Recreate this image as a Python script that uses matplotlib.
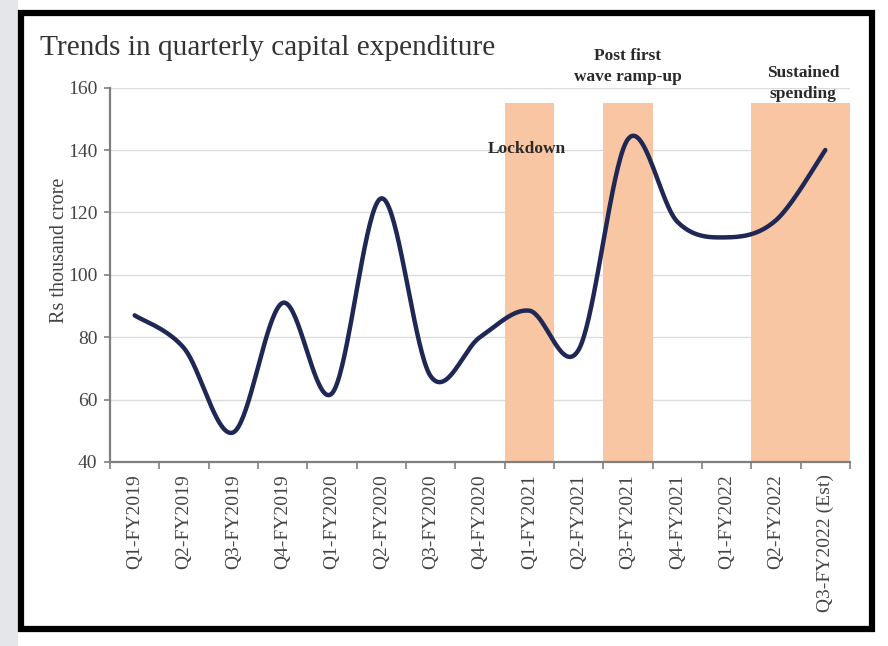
import numpy as np
import matplotlib
matplotlib.use("Agg")
import matplotlib.pyplot as plt
from matplotlib.patches import Rectangle

# Quarterly capital expenditure, Rs thousand crore
quarters = ["Q1-FY2019", "Q2-FY2019", "Q3-FY2019", "Q4-FY2019",
            "Q1-FY2020", "Q2-FY2020", "Q3-FY2020", "Q4-FY2020",
            "Q1-FY2021", "Q2-FY2021", "Q3-FY2021", "Q4-FY2021",
            "Q1-FY2022", "Q2-FY2022", "Q3-FY2022 (Est)"]
capex = [87, 76.5, 49.5, 91, 62, 124.5, 67.5, 80, 88.5, 76, 143.5, 117, 112, 117.5, 140]

# Highlighted phases (bar height marks the band top)
band_quarters = ["Q1-FY2021", "Q3-FY2021", "Q2-FY2022", "Q3-FY2022 (Est)"]
band_top = 155
phase_labels = ["Lockdown", "Post first\nwave ramp-up", "Sustained\nspending"]
phase_anchor = ["Q1-FY2021", "Q3-FY2021", "Q2-FY2022"]

yticks = [40, 60, 80, 100, 120, 140, 160]

SERIF = ["Liberation Serif", "DejaVu Serif"]
LINE = "#1f2755"
BAND = "#f8c6a2"


def smooth(xs, ys, n=40):
    """Catmull-Rom style smoothing through every point (cubic Bezier segments)."""
    p = np.column_stack([xs, ys]).astype(float)
    ext = np.vstack([p[0], p, p[-1]])
    out = []
    t = np.linspace(0, 1, n)[:, None]
    for i in range(len(p) - 1):
        p0, p1, p2, p3 = ext[i], ext[i + 1], ext[i + 2], ext[i + 3]
        c1 = p1 + (p2 - p0) / 6.0
        c2 = p2 - (p3 - p1) / 6.0
        seg = ((1 - t) ** 3) * p1 + 3 * ((1 - t) ** 2) * t * c1 \
            + 3 * (1 - t) * t ** 2 * c2 + t ** 3 * p2
        out.append(seg if i == 0 else seg[1:])
    s = np.vstack(out)
    return s[:, 0], s[:, 1]


fig = plt.figure(figsize=(8.88, 6.46), dpi=100)
fig.patch.set_facecolor("white")

# grey strip on the left edge and the black frame
fig.add_artist(Rectangle((0, 0), 18 / 888, 1, transform=fig.transFigure,
                         facecolor="#e4e6e9", edgecolor="none", zorder=0))
fig.add_artist(Rectangle((21 / 888, 1 - 629 / 646), 851 / 888, 616 / 646,
                         transform=fig.transFigure, facecolor="white",
                         edgecolor="black", linewidth=4.5, zorder=1))

ax = fig.add_axes([110 / 888, 1 - 462 / 646, 740 / 888, (462 - 87.6) / 646])
ax.set_zorder(2)
ax.patch.set_alpha(0)

idx = np.arange(len(quarters))
ax.set_xlim(-0.5, len(quarters) - 0.5)
ax.set_ylim(40, 160)

for y in yticks[1:]:
    ax.axhline(y, color="#dcdcdc", linewidth=1.0, zorder=1)

band_idx = [quarters.index(q) for q in band_quarters]
ax.bar(band_idx, [band_top] * len(band_idx), width=1.0, color=BAND,
       edgecolor="none", zorder=2)

sx, sy = smooth(idx, capex)
ax.plot(sx, sy, color=LINE, linewidth=3.2, solid_capstyle="round", zorder=3)

for lab, q in zip(phase_labels, phase_anchor):
    i = quarters.index(q)
    if lab == "Lockdown":
        ax.text(i - 0.05, 140.3, lab, ha="center", va="center",
                fontsize=12.5, fontweight="bold", family=SERIF,
                color="#2a2a2a", zorder=4)
    elif lab.startswith("Post"):
        ax.text(i, 160.8, lab, ha="center", va="bottom", fontsize=12.5,
                fontweight="bold", family=SERIF, color="#2a2a2a",
                linespacing=1.45, zorder=4, clip_on=False)
    else:
        ax.text(i + 0.55, 155.3, lab, ha="center", va="bottom", fontsize=12.5,
                fontweight="bold", family=SERIF, color="#2a2a2a",
                linespacing=1.45, zorder=4, clip_on=False)

for s in ["top", "right"]:
    ax.spines[s].set_visible(False)
for s in ["left", "bottom"]:
    ax.spines[s].set_color("#7f7f7f")
    ax.spines[s].set_linewidth(1.6)
    ax.spines[s].set_zorder(5)

ax.set_yticks(yticks)
ax.set_yticklabels([str(v) for v in yticks], family=SERIF, fontsize=14,
                   color="#444444")
ax.tick_params(axis="y", length=4, width=1.2, color="#7f7f7f", pad=5)

ax.set_xticks(np.arange(-0.5, len(quarters)), minor=False)
ax.set_xticklabels([])
ax.tick_params(axis="x", which="major", length=5, width=1.2, color="#7f7f7f")
ax.set_xticks(idx, minor=True)
ax.set_xticklabels(quarters, minor=True, rotation=90, family=SERIF,
                   fontsize=14, color="#444444", va="top", ha="center")
ax.tick_params(axis="x", which="minor", length=0, pad=9)

ax.set_ylabel("Rs thousand crore", family=SERIF, fontsize=14.5,
              color="#444444")
ax.yaxis.set_label_coords(-0.055, 0.566)

fig.text(40 / 888, 1 - 48 / 646, "Trends in quarterly capital expenditure",
         family=SERIF, fontsize=21.2, color="#333333", ha="left",
         va="center", zorder=6)

fig.savefig("out.png", dpi=100, facecolor=fig.get_facecolor())
